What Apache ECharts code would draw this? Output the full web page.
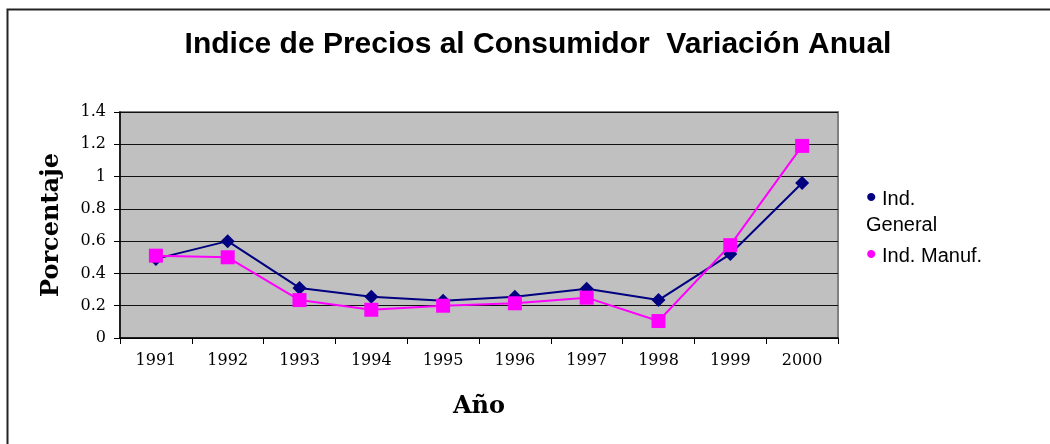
<!DOCTYPE html>
<html>
<head>
<meta charset="utf-8">
<script src="https://cdn.jsdelivr.net/npm/echarts@6/dist/echarts.min.js"></script>
<style>
  html, body { margin: 0; padding: 0; background: #fff; }
  #chart { width: 1050px; height: 444px; }
</style>
</head>
<body>
<div id="chart"></div>
<script>
var years = ['1991', '1992', '1993', '1994', '1995', '1996', '1997', '1998', '1999', '2000'];
var indGeneral = [0.49, 0.60, 0.31, 0.255, 0.23, 0.255, 0.305, 0.235, 0.52, 0.96];
var indManuf = [0.51, 0.50, 0.235, 0.175, 0.20, 0.215, 0.25, 0.105, 0.575, 1.19];

var chart = echarts.init(document.getElementById('chart'), null, { renderer: 'canvas' });

var serif = '"DejaVu Serif", serif';

chart.setOption({
  animation: false,
  backgroundColor: '#fff',
  title: {
    text: 'Indice de Precios al Consumidor  Variación Anual',
    left: 538,
    textAlign: 'center',
    top: 30,
    padding: 0,
    textStyle: {
      fontFamily: '"Liberation Sans", Arial, sans-serif',
      fontWeight: 'bold',
      fontSize: 30,
      color: '#000'
    }
  },
  graphic: [{
    type: 'rect',
    shape: { x: 7.5, y: 9.5, width: 1100, height: 500 },
    style: { fill: 'none', stroke: '#222', lineWidth: 2 },
    silent: true,
    z: -1
  }],
  legend: {
    orient: 'vertical',
    left: 856,
    top: 179,
    icon: 'none',
    itemWidth: 0,
    itemGap: 3,
    data: ['Ind. General', 'Ind. Manuf.'],
    formatter: function (name) {
      if (name === 'Ind. General') {
        return '{g|•} Ind.\nGeneral';
      }
      return '{m|•} Ind. Manuf.';
    },
    textStyle: {
      fontFamily: '"Liberation Sans", Arial, sans-serif',
      fontSize: 20,
      lineHeight: 26,
      color: '#000',
      rich: {
        g: { color: '#000080', fontSize: 30, lineHeight: 26 },
        m: { color: '#ff00ff', fontSize: 30, lineHeight: 26 }
      }
    }
  },
  grid: {
    left: 120,
    right: 212,
    top: 112,
    bottom: 106,
    show: true,
    backgroundColor: '#c0c0c0',
    borderColor: '#808080',
    borderWidth: 2
  },
  xAxis: {
    type: 'category',
    data: years,
    boundaryGap: true,
    name: 'Año',
    nameLocation: 'middle',
    nameGap: 57,
    nameTextStyle: {
      fontFamily: serif,
      fontWeight: 'bold',
      fontSize: 24,
      color: '#000'
    },
    axisLine: { lineStyle: { color: '#000', width: 1.5 } },
    axisTick: { show: true, length: 6, lineStyle: { color: '#000' } },
    axisLabel: {
      margin: 15,
      fontFamily: serif,
      fontSize: 16,
      color: '#000'
    },
    splitLine: { show: false }
  },
  yAxis: {
    type: 'value',
    min: 0,
    max: 1.4,
    interval: 0.2,
    name: 'Porcentaje',
    nameLocation: 'middle',
    nameGap: 56,
    nameTextStyle: {
      fontFamily: serif,
      fontWeight: 'bold',
      fontSize: 24,
      color: '#000'
    },
    axisLine: { show: true, lineStyle: { color: '#000', width: 1.5 } },
    axisTick: { show: true, length: 6, lineStyle: { color: '#000' } },
    axisLabel: {
      margin: 14,
      fontFamily: serif,
      fontSize: 16,
      color: '#000',
      formatter: function (v) { return String(Math.round(v * 10) / 10); }
    },
    splitLine: { show: true, lineStyle: { color: '#111', width: 1 } }
  },
  series: [{
    name: 'Ind. General',
    type: 'line',
    data: indGeneral,
    symbol: 'diamond',
    symbolSize: 14,
    itemStyle: { color: '#000080' },
    lineStyle: { color: '#000080', width: 2 },
    z: 2
  }, {
    name: 'Ind. Manuf.',
    type: 'line',
    data: indManuf,
    symbol: 'rect',
    symbolSize: 14,
    itemStyle: { color: '#ff00ff' },
    lineStyle: { color: '#ff00ff', width: 2 },
    z: 3
  }]
});
</script>
</body>
</html>
